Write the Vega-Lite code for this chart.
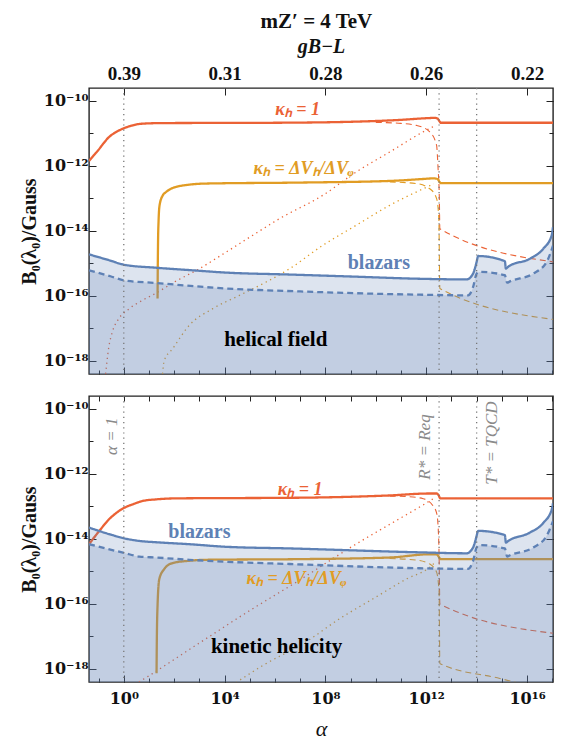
{
  "$schema": "https://vega.github.io/schema/vega-lite/v6.json",
  "padding": {"left": 18, "right": 0, "top": 11, "bottom": 3},
  "title": {"text": "mZ′ = 4 TeV", "font": "Liberation Serif", "fontSize": 21, "fontWeight": "bold", "anchor": "middle", "dx": 30, "offset": 3, "color": "#111"},
  "datasets": {
    "curves": [
      {"p":"t","s":"r1","a":4.169e-2,"b":1.413e-12},
      {"p":"t","s":"r1","a":6.310e-2,"b":2.089e-12},
      {"p":"t","s":"r1","a":1e-1,"b":3.162e-12},
      {"p":"t","s":"r1","a":1.585e-1,"b":5.012e-12},
      {"p":"t","s":"r1","a":2.512e-1,"b":7.586e-12},
      {"p":"t","s":"r1","a":3.981e-1,"b":1e-11},
      {"p":"t","s":"r1","a":6.310e-1,"b":1.230e-11},
      {"p":"t","s":"r1","a":1,"b":1.445e-11},
      {"p":"t","s":"r1","a":1.995,"b":1.738e-11},
      {"p":"t","s":"r1","a":5.012,"b":1.995e-11},
      {"p":"t","s":"r1","a":31.62,"b":2.089e-11},
      {"p":"t","s":"r1","a":1e6,"b":2.138e-11},
      {"p":"t","s":"r1","a":1e9,"b":2.291e-11},
      {"p":"t","s":"r1","a":1e11,"b":2.630e-11},
      {"p":"t","s":"r1","a":1e12,"b":2.951e-11},
      {"p":"t","s":"r1","a":2.239e12,"b":3.020e-11},
      {"p":"t","s":"r1","a":2.818e12,"b":2.884e-11},
      {"p":"t","s":"r1","a":3.311e12,"b":2.399e-11},
      {"p":"t","s":"r1","a":3.802e12,"b":2.138e-11},
      {"p":"t","s":"r1","a":1.07e17,"b":2.138e-11},

      {"p":"t","s":"r2","a":1e10,"b":2.188e-11},
      {"p":"t","s":"r2","a":1e11,"b":2.042e-11},
      {"p":"t","s":"r2","a":4.074e11,"b":1.778e-11},
      {"p":"t","s":"r2","a":1.380e12,"b":1.122e-11},
      {"p":"t","s":"r2","a":2.570e12,"b":4.365e-12},
      {"p":"t","s":"r2","a":2.951e12,"b":8.318e-13},
      {"p":"t","s":"r2","a":3.311e12,"b":1e-13},
      {"p":"t","s":"r2","a":3.467e12,"b":1.175e-14},
      {"p":"t","s":"r2","a":1.07e17,"b":1.122e-15},

      {"p":"t","s":"r3","a":1.905e-1,"b":3.981e-19},
      {"p":"t","s":"r3","a":2.512e-1,"b":2.512e-18},
      {"p":"t","s":"r3","a":3.548e-1,"b":7.943e-18},
      {"p":"t","s":"r3","a":6.310e-1,"b":1.995e-17},
      {"p":"t","s":"r3","a":1.585,"b":3.981e-17},
      {"p":"t","s":"r3","a":5.012,"b":7.079e-17},
      {"p":"t","s":"r3","a":22.39,"b":1.318e-16},
      {"p":"t","s":"r3","a":87.10,"b":2.512e-16},
      {"p":"t","s":"r3","a":1e3,"b":6.918e-16},
      {"p":"t","s":"r3","a":1.148e4,"b":2.239e-15},
      {"p":"t","s":"r3","a":1.318e5,"b":7.413e-15},
      {"p":"t","s":"r3","a":1.514e6,"b":2.399e-14},
      {"p":"t","s":"r3","a":7.943e7,"b":1.259e-13},
      {"p":"t","s":"r3","a":1.698e9,"b":6.607e-13},
      {"p":"t","s":"r3","a":3.548e10,"b":2.692e-12},
      {"p":"t","s":"r3","a":7.586e11,"b":1.122e-11},
      {"p":"t","s":"r3","a":1.995e12,"b":1.660e-11},

      {"p":"t","s":"o1","a":21.88,"b":8.318e-17},
      {"p":"t","s":"o1","a":22.39,"b":1e-15},
      {"p":"t","s":"o1","a":22.91,"b":5.012e-15},
      {"p":"t","s":"o1","a":23.99,"b":1.995e-14},
      {"p":"t","s":"o1","a":26.30,"b":6.166e-14},
      {"p":"t","s":"o1","a":35.48,"b":1.259e-13},
      {"p":"t","s":"o1","a":47.86,"b":1.585e-13},
      {"p":"t","s":"o1","a":158.5,"b":2.399e-13},
      {"p":"t","s":"o1","a":1862,"b":2.884e-13},
      {"p":"t","s":"o1","a":1e7,"b":3.090e-13},
      {"p":"t","s":"o1","a":3.548e10,"b":3.467e-13},
      {"p":"t","s":"o1","a":7.586e11,"b":3.981e-13},
      {"p":"t","s":"o1","a":1.995e12,"b":4.169e-13},
      {"p":"t","s":"o1","a":2.818e12,"b":3.981e-13},
      {"p":"t","s":"o1","a":3.311e12,"b":3.311e-13},
      {"p":"t","s":"o1","a":3.802e12,"b":2.951e-13},
      {"p":"t","s":"o1","a":1.07e17,"b":2.951e-13},

      {"p":"t","s":"o2","a":3.548e10,"b":3.236e-13},
      {"p":"t","s":"o2","a":4.074e11,"b":2.884e-13},
      {"p":"t","s":"o2","a":1.380e12,"b":1.995e-13},
      {"p":"t","s":"o2","a":2.570e12,"b":1e-13},
      {"p":"t","s":"o2","a":3.162e12,"b":2.399e-14},
      {"p":"t","s":"o2","a":3.467e12,"b":1.698e-16},
      {"p":"t","s":"o2","a":1.07e17,"b":1.905e-17},

      {"p":"t","s":"o3","a":34.67,"b":3.981e-19},
      {"p":"t","s":"o3","a":39.81,"b":1e-18},
      {"p":"t","s":"o3","a":87.10,"b":2.399e-18},
      {"p":"t","s":"o3","a":398.1,"b":1.259e-17},
      {"p":"t","s":"o3","a":3388,"b":4.074e-17},
      {"p":"t","s":"o3","a":3.890e4,"b":1.047e-16},
      {"p":"t","s":"o3","a":4.467e5,"b":2.692e-16},
      {"p":"t","s":"o3","a":3.802e6,"b":6.918e-16},
      {"p":"t","s":"o3","a":7.943e7,"b":3.631e-15},
      {"p":"t","s":"o3","a":1.698e9,"b":1.514e-14},
      {"p":"t","s":"o3","a":3.548e10,"b":6.166e-14},
      {"p":"t","s":"o3","a":7.586e11,"b":1.995e-13},
      {"p":"t","s":"o3","a":1.995e12,"b":2.818e-13},

      {"p":"t","s":"b1","a":4.169e-2,"b":1.905e-15},
      {"p":"t","s":"b1","a":2.630e-1,"b":1.259e-15},
      {"p":"t","s":"b1","a":1.047,"b":9.120e-16},
      {"p":"t","s":"b1","a":19.05,"b":7.413e-16},
      {"p":"t","s":"b1","a":549.5,"b":6.166e-16},
      {"p":"t","s":"b1","a":1.148e4,"b":5.248e-16},
      {"p":"t","s":"b1","a":3.802e6,"b":4.571e-16},
      {"p":"t","s":"b1","a":1e9,"b":3.981e-16},
      {"p":"t","s":"b1","a":5.495e11,"b":3.388e-16},
      {"p":"t","s":"b1","a":3.981e13,"b":3.236e-16},
      {"p":"t","s":"b1","a":7.244e13,"b":4.898e-16},
      {"p":"t","s":"b1","a":8.913e13,"b":7.943e-16},
      {"p":"t","s":"b1","a":1e14,"b":1.122e-15},
      {"p":"t","s":"b1","a":1.148e14,"b":1.698e-15},
      {"p":"t","s":"b1","a":1.318e15,"b":1.175e-15},
      {"p":"t","s":"b1","a":1.445e15,"b":6.918e-16},
      {"p":"t","s":"b1","a":1.778e15,"b":7.943e-16},
      {"p":"t","s":"b1","a":1.318e16,"b":1.413e-15},
      {"p":"t","s":"b1","a":4.467e16,"b":2.884e-15},
      {"p":"t","s":"b1","a":9.550e16,"b":7.413e-15},
      {"p":"t","s":"b1","a":1.07e17,"b":1.318e-14},

      {"p":"t","s":"b2","a":4.169e-2,"b":6.166e-16},
      {"p":"t","s":"b2","a":3.162e-1,"b":3.981e-16},
      {"p":"t","s":"b2","a":1.047,"b":3.020e-16},
      {"p":"t","s":"b2","a":19.05,"b":2.512e-16},
      {"p":"t","s":"b2","a":1.148e4,"b":1.698e-16},
      {"p":"t","s":"b2","a":1e7,"b":1.380e-16},
      {"p":"t","s":"b2","a":5.495e11,"b":1.096e-16},
      {"p":"t","s":"b2","a":4.571e13,"b":1.047e-16},
      {"p":"t","s":"b2","a":7.244e13,"b":1.905e-16},
      {"p":"t","s":"b2","a":1e14,"b":4.898e-16},
      {"p":"t","s":"b2","a":1.349e14,"b":5.495e-16},
      {"p":"t","s":"b2","a":1.318e15,"b":4.365e-16},
      {"p":"t","s":"b2","a":1.622e15,"b":2.570e-16},
      {"p":"t","s":"b2","a":2.089e15,"b":2.818e-16},
      {"p":"t","s":"b2","a":1.778e16,"b":4.898e-16},
      {"p":"t","s":"b2","a":6.026e16,"b":1.122e-15},
      {"p":"t","s":"b2","a":1.07e17,"b":3.548e-15},

      {"p":"b","s":"r1","a":4.169e-2,"b":6.918e-15},
      {"p":"b","s":"r1","a":1.072e-1,"b":1.778e-14},
      {"p":"b","s":"r1","a":2.630e-1,"b":4.074e-14},
      {"p":"b","s":"r1","a":5.012e-1,"b":6.310e-14},
      {"p":"b","s":"r1","a":1.047,"b":9.120e-14},
      {"p":"b","s":"r1","a":2.512,"b":1.202e-13},
      {"p":"b","s":"r1","a":5.623,"b":1.479e-13},
      {"p":"b","s":"r1","a":19.95,"b":1.660e-13},
      {"p":"b","s":"r1","a":117.5,"b":1.778e-13},
      {"p":"b","s":"r1","a":1e7,"b":1.862e-13},
      {"p":"b","s":"r1","a":3.548e10,"b":2.188e-13},
      {"p":"b","s":"r1","a":1.380e12,"b":2.512e-13},
      {"p":"b","s":"r1","a":2.570e12,"b":2.512e-13},
      {"p":"b","s":"r1","a":3.020e12,"b":2.291e-13},
      {"p":"b","s":"r1","a":3.631e12,"b":1.778e-13},
      {"p":"b","s":"r1","a":1.07e17,"b":1.778e-13},

      {"p":"b","s":"r2","a":3.548e10,"b":2.089e-13},
      {"p":"b","s":"r2","a":1.995e11,"b":1.995e-13},
      {"p":"b","s":"r2","a":7.586e11,"b":1.738e-13},
      {"p":"b","s":"r2","a":1.862e12,"b":1.047e-13},
      {"p":"b","s":"r2","a":2.570e12,"b":6.310e-14},
      {"p":"b","s":"r2","a":2.951e12,"b":2.512e-14},
      {"p":"b","s":"r2","a":3.236e12,"b":3.162e-15},
      {"p":"b","s":"r2","a":3.467e12,"b":1e-16},
      {"p":"b","s":"r2","a":1.07e17,"b":1.259e-17},

      {"p":"b","s":"r3","a":3.981,"b":3.981e-19},
      {"p":"b","s":"r3","a":6.457,"b":5.012e-19},
      {"p":"b","s":"r3","a":1e3,"b":6.310e-18},
      {"p":"b","s":"r3","a":1e5,"b":6.310e-17},
      {"p":"b","s":"r3","a":6.918e6,"b":4.677e-16},
      {"p":"b","s":"r3","a":1.698e9,"b":7.079e-15},
      {"p":"b","s":"r3","a":3.548e10,"b":2.818e-14},
      {"p":"b","s":"r3","a":7.586e11,"b":1.122e-13},
      {"p":"b","s":"r3","a":1.995e12,"b":1.778e-13},

      {"p":"b","s":"o1","a":19.95,"b":7.413e-19},
      {"p":"b","s":"o1","a":20.42,"b":6.310e-18},
      {"p":"b","s":"o1","a":21.88,"b":9.120e-17},
      {"p":"b","s":"o1","a":25.70,"b":5.888e-16},
      {"p":"b","s":"o1","a":40.74,"b":1.202e-15},
      {"p":"b","s":"o1","a":87.10,"b":1.820e-15},
      {"p":"b","s":"o1","a":398.1,"b":2.138e-15},
      {"p":"b","s":"o1","a":1862,"b":2.291e-15},
      {"p":"b","s":"o1","a":1e7,"b":2.399e-15},
      {"p":"b","s":"o1","a":3.548e10,"b":2.692e-15},
      {"p":"b","s":"o1","a":1.380e12,"b":3.388e-15},
      {"p":"b","s":"o1","a":2.570e12,"b":3.388e-15},
      {"p":"b","s":"o1","a":3.162e12,"b":2.818e-15},
      {"p":"b","s":"o1","a":3.631e12,"b":2.399e-15},
      {"p":"b","s":"o1","a":1.07e17,"b":2.399e-15},

      {"p":"b","s":"o2","a":3.548e10,"b":2.512e-15},
      {"p":"b","s":"o2","a":4.074e11,"b":2.239e-15},
      {"p":"b","s":"o2","a":1.380e12,"b":1.698e-15},
      {"p":"b","s":"o2","a":2.570e12,"b":9.550e-16},
      {"p":"b","s":"o2","a":3.236e12,"b":2.291e-16},
      {"p":"b","s":"o2","a":3.467e12,"b":1.479e-18},
      {"p":"b","s":"o2","a":8.318e14,"b":5.129e-19},
      {"p":"b","s":"o2","a":1.07e17,"b":1.995e-19},

      {"p":"b","s":"o3","a":2.818e4,"b":3.802e-19},
      {"p":"b","s":"o3","a":3.162e5,"b":1.259e-18},
      {"p":"b","s":"o3","a":1.738e7,"b":6.918e-18},
      {"p":"b","s":"o3","a":3.715e8,"b":3.548e-17},
      {"p":"b","s":"o3","a":7.762e9,"b":1.445e-16},
      {"p":"b","s":"o3","a":1.660e11,"b":5.888e-16},
      {"p":"b","s":"o3","a":1.380e12,"b":1.349e-15},
      {"p":"b","s":"o3","a":2.239e12,"b":1.905e-15},

      {"p":"b","s":"b1","a":4.169e-2,"b":2.239e-14},
      {"p":"b","s":"b1","a":2.630e-1,"b":1.413e-14},
      {"p":"b","s":"b1","a":1.047,"b":1.047e-14},
      {"p":"b","s":"b1","a":4.169,"b":8.710e-15},
      {"p":"b","s":"b1","a":19.05,"b":7.943e-15},
      {"p":"b","s":"b1","a":398.1,"b":6.918e-15},
      {"p":"b","s":"b1","a":1.148e4,"b":5.754e-15},
      {"p":"b","s":"b1","a":3.802e6,"b":5.129e-15},
      {"p":"b","s":"b1","a":5.495e11,"b":3.890e-15},
      {"p":"b","s":"b1","a":3.981e13,"b":3.631e-15},
      {"p":"b","s":"b1","a":7.244e13,"b":5.495e-15},
      {"p":"b","s":"b1","a":8.913e13,"b":8.913e-15},
      {"p":"b","s":"b1","a":1e14,"b":1.259e-14},
      {"p":"b","s":"b1","a":1.148e14,"b":1.778e-14},
      {"p":"b","s":"b1","a":1.318e15,"b":1.318e-14},
      {"p":"b","s":"b1","a":1.445e15,"b":7.762e-15},
      {"p":"b","s":"b1","a":1.778e15,"b":8.710e-15},
      {"p":"b","s":"b1","a":1.318e16,"b":1.585e-14},
      {"p":"b","s":"b1","a":4.467e16,"b":3.162e-14},
      {"p":"b","s":"b1","a":9.550e16,"b":8.128e-14},
      {"p":"b","s":"b1","a":1.07e17,"b":1.259e-13},

      {"p":"b","s":"b2","a":4.169e-2,"b":6.918e-15},
      {"p":"b","s":"b2","a":1.047,"b":3.715e-15},
      {"p":"b","s":"b2","a":4.169,"b":2.884e-15},
      {"p":"b","s":"b2","a":19.05,"b":2.692e-15},
      {"p":"b","s":"b2","a":398.1,"b":2.291e-15},
      {"p":"b","s":"b2","a":1.148e4,"b":1.995e-15},
      {"p":"b","s":"b2","a":3.802e6,"b":1.698e-15},
      {"p":"b","s":"b2","a":5.495e11,"b":1.259e-15},
      {"p":"b","s":"b2","a":4.571e13,"b":1.202e-15},
      {"p":"b","s":"b2","a":7.244e13,"b":2.138e-15},
      {"p":"b","s":"b2","a":1e14,"b":5.495e-15},
      {"p":"b","s":"b2","a":1.349e14,"b":6.457e-15},
      {"p":"b","s":"b2","a":1.318e15,"b":5.129e-15},
      {"p":"b","s":"b2","a":1.622e15,"b":2.884e-15},
      {"p":"b","s":"b2","a":2.089e15,"b":3.162e-15},
      {"p":"b","s":"b2","a":1.778e16,"b":5.495e-15},
      {"p":"b","s":"b2","a":6.026e16,"b":1.259e-14},
      {"p":"b","s":"b2","a":1.07e17,"b":3.548e-14}
    ],
    "vlines": [{"a": 1}, {"a": 3.236e12}, {"a": 1e14}],
    "lab": [
      {"p":"t","g":"k1","t":"κₕ = 1","a":7.943e6,"b":5.248e-11},
      {"p":"t","g":"k2","t":"κₕ = ΔVₕ/ΔVᵩ","a":1.380e7,"b":8.318e-13},
      {"p":"t","g":"bl","t":"blazars","a":1.318e10,"b":1e-15},
      {"p":"t","g":"ti","t":"helical field","a":1.072e6,"b":4.467e-18},
      {"p":"b","g":"k1","t":"κₕ = 1","a":1e7,"b":3.311e-13},
      {"p":"b","g":"k2","t":"κₕ = ΔVₕ/ΔVᵩ","a":7.244e6,"b":5.888e-16},
      {"p":"b","g":"bl","t":"blazars","a":1e3,"b":1.585e-14},
      {"p":"b","g":"ti","t":"kinetic helicity","a":1.148e6,"b":4.786e-18},
      {"p":"b","g":"gr","t":"α = 1","a":3.467e-1,"b":1.445e-11},
      {"p":"b","g":"gr","t":"R* = Req","a":8.710e11,"b":6.761e-12},
      {"p":"b","g":"gr","t":"T* = TQCD","a":3.981e14,"b":8.913e-12}
    ]
  },
  "vconcat": [
    {
      "width": 464, "height": 286,
      "resolve": {"axis": {"x": "independent", "y": "independent"}},
      "layer": [
        {
          "data": {"name": "curves"},
          "transform": [{"filter": "datum.p == 't' && (datum.s == 'r1' || datum.s == 'r2' || datum.s == 'r3' || datum.s == 'o1' || datum.s == 'o2' || datum.s == 'o3')"}],
          "mark": {"type": "line", "clip": true, "interpolate": "monotone"},
          "encoding": {
            "x": {"field": "a", "type": "quantitative", "scale": {"type": "log", "domain": [0.0417, 1.07e17], "nice": false},
                  "axis": {"orient": "bottom", "values": [1, 1e4, 1e8, 1e12, 1e16], "tickSize": -7, "labels": false, "title": null}},
            "y": {"field": "b", "type": "quantitative", "scale": {"type": "log", "domain": [3.98e-19, 2.51e-10], "nice": false},
                  "axis": {"orient": "left", "values": [1e-18, 1e-16, 1e-14, 1e-12, 1e-10], "tickSize": -7, "labelPadding": 8,
                           "labelFont": "DejaVu Serif", "labelFontSize": 16,
                           "labelExpr": "round(log(datum.value)/LN10)==-10?'10⁻¹⁰':round(log(datum.value)/LN10)==-12?'10⁻¹²':round(log(datum.value)/LN10)==-14?'10⁻¹⁴':round(log(datum.value)/LN10)==-16?'10⁻¹⁶':'10⁻¹⁸'",
                           "title": "B₀(λ₀)/Gauss", "titlePadding": 4}},
            "color": {"field": "s", "type": "nominal", "legend": null, "scale": {"domain": ["r1","r2","r3","o1","o2","o3"], "range": ["#EB6235","#EB6235","#EB6235","#E19C24","#E19C24","#E19C24"]}},
            "strokeDash": {"field": "s", "type": "nominal", "legend": null, "scale": {"type": "ordinal", "domain": ["r1","r2","r3","o1","o2","o3"], "range": [[1,0],[6,4],[1.3,3.7],[1,0],[6,4],[1.3,3.7]]}},
            "strokeWidth": {"field": "s", "type": "nominal", "legend": null, "scale": {"type": "ordinal", "domain": ["r1","r2","r3","o1","o2","o3"], "range": [2.3,1.1,1.3,2.3,1.1,1.3]}}
          }
        },
        {
          "data": {"name": "curves"},
          "transform": [{"filter": "datum.p == 't' && (datum.s == 'b1' || datum.s == 'b2')"}],
          "mark": {"type": "area", "clip": true, "interpolate": "monotone", "color": "#5E81B5", "fillOpacity": 0.21},
          "encoding": {
            "x": {"field": "a", "type": "quantitative", "axis": null},
            "y": {"field": "b", "type": "quantitative", "axis": null},
            "y2": {"datum": 3.98e-19},
            "detail": {"field": "s", "type": "nominal"}
          }
        },
        {
          "data": {"name": "curves"},
          "transform": [{"filter": "datum.p == 't' && (datum.s == 'b1' || datum.s == 'b2')"}],
          "mark": {"type": "line", "clip": true, "interpolate": "monotone", "color": "#5E81B5", "strokeWidth": 2.3},
          "encoding": {
            "x": {"field": "a", "type": "quantitative",
                  "axis": {"orient": "bottom", "values": [0.1,1,10,100,1e3,1e4,1e5,1e6,1e7,1e8,1e9,1e10,1e11,1e12,1e13,1e14,1e15,1e16,1e17], "tickSize": -4, "labels": false, "title": null}},
            "y": {"field": "b", "type": "quantitative",
                  "axis": {"orient": "left", "values": [1e-18,1e-17,1e-16,1e-15,1e-14,1e-13,1e-12,1e-11,1e-10], "tickSize": -4, "labels": false, "title": null}},
            "strokeDash": {"field": "s", "type": "nominal", "legend": null, "scale": {"type": "ordinal", "domain": ["b1","b2"], "range": [[1,0],[10,5]]}}
          }
        },
        {
          "data": {"name": "vlines"},
          "mark": {"type": "rule", "color": "#777", "strokeDash": [1.2, 4], "strokeWidth": 1.3},
          "encoding": {"x": {"field": "a", "type": "quantitative", "axis": null}}
        },
        {
          "data": {"name": "lab"},
          "transform": [{"filter": "datum.p == 't' && datum.g == 'k1'"}],
          "mark": {"type": "text", "color": "#EB6235", "font": "Liberation Serif", "fontSize": 18, "fontStyle": "italic", "fontWeight": "bold"},
          "encoding": {
            "x": {"field": "a", "type": "quantitative",
                  "axis": {"orient": "top", "values": [1, 1e4, 1e8, 1e12, 1e16], "tickSize": -7, "labelPadding": 12,
                           "labelExpr": "round(log(datum.value)/LN10)==0?'0.39':round(log(datum.value)/LN10)==4?'0.31':round(log(datum.value)/LN10)==8?'0.28':round(log(datum.value)/LN10)==12?'0.26':'0.22'",
                           "title": "gB−L", "titleFontStyle": "italic", "titleFontSize": 20, "titlePadding": 8}},
            "y": {"field": "b", "type": "quantitative",
                  "axis": {"orient": "right", "values": [1e-18, 1e-16, 1e-14, 1e-12, 1e-10], "tickSize": -7, "labels": false, "title": null}},
            "text": {"field": "t"}
          }
        },
        {
          "data": {"name": "lab"},
          "transform": [{"filter": "datum.p == 't' && datum.g == 'k2'"}],
          "mark": {"type": "text", "color": "#E19C24", "font": "Liberation Serif", "fontSize": 18, "fontStyle": "italic", "fontWeight": "bold"},
          "encoding": {
            "x": {"field": "a", "type": "quantitative", "axis": null},
            "y": {"field": "b", "type": "quantitative",
                  "axis": {"orient": "right", "values": [1e-18,1e-17,1e-16,1e-15,1e-14,1e-13,1e-12,1e-11,1e-10], "tickSize": -4, "labels": false, "title": null}},
            "text": {"field": "t"}
          }
        },
        {
          "data": {"name": "lab"},
          "transform": [{"filter": "datum.p == 't' && datum.g == 'bl'"}],
          "mark": {"type": "text", "color": "#5E81B5", "font": "Liberation Serif", "fontSize": 20, "fontWeight": "bold"},
          "encoding": {
            "x": {"field": "a", "type": "quantitative", "axis": null},
            "y": {"field": "b", "type": "quantitative", "axis": null},
            "text": {"field": "t"}
          }
        },
        {
          "data": {"name": "lab"},
          "transform": [{"filter": "datum.p == 't' && datum.g == 'ti'"}],
          "mark": {"type": "text", "color": "#000", "font": "Liberation Serif", "fontSize": 21, "fontWeight": "bold"},
          "encoding": {
            "x": {"field": "a", "type": "quantitative", "axis": null},
            "y": {"field": "b", "type": "quantitative", "axis": null},
            "text": {"field": "t"}
          }
        }
      ]
    },
    {
      "width": 464, "height": 286,
      "resolve": {"axis": {"x": "independent", "y": "independent"}},
      "layer": [
        {
          "data": {"name": "curves"},
          "transform": [{"filter": "datum.p == 'b' && (datum.s == 'r1' || datum.s == 'r2' || datum.s == 'r3' || datum.s == 'o1' || datum.s == 'o2' || datum.s == 'o3')"}],
          "mark": {"type": "line", "clip": true, "interpolate": "monotone"},
          "encoding": {
            "x": {"field": "a", "type": "quantitative", "scale": {"type": "log", "domain": [0.0417, 1.07e17], "nice": false},
                  "axis": {"orient": "bottom", "values": [1, 1e4, 1e8, 1e12, 1e16], "tickSize": -7, "labelPadding": 15,
                           "labelFont": "DejaVu Serif", "labelFontSize": 16,
                           "labelExpr": "round(log(datum.value)/LN10)==0?'10⁰':round(log(datum.value)/LN10)==4?'10⁴':round(log(datum.value)/LN10)==8?'10⁸':round(log(datum.value)/LN10)==12?'10¹²':'10¹⁶'",
                           "title": "α", "titleFontStyle": "italic", "titleFontWeight": "normal", "titleFontSize": 22, "titlePadding": 12}},
            "y": {"field": "b", "type": "quantitative", "scale": {"type": "log", "domain": [3.98e-19, 2.51e-10], "nice": false},
                  "axis": {"orient": "left", "values": [1e-18, 1e-16, 1e-14, 1e-12, 1e-10], "tickSize": -7, "labelPadding": 8,
                           "labelFont": "DejaVu Serif", "labelFontSize": 16,
                           "labelExpr": "round(log(datum.value)/LN10)==-10?'10⁻¹⁰':round(log(datum.value)/LN10)==-12?'10⁻¹²':round(log(datum.value)/LN10)==-14?'10⁻¹⁴':round(log(datum.value)/LN10)==-16?'10⁻¹⁶':'10⁻¹⁸'",
                           "title": "B₀(λ₀)/Gauss", "titlePadding": 4}},
            "color": {"field": "s", "type": "nominal", "legend": null, "scale": {"domain": ["r1","r2","r3","o1","o2","o3"], "range": ["#EB6235","#EB6235","#EB6235","#E19C24","#E19C24","#E19C24"]}},
            "strokeDash": {"field": "s", "type": "nominal", "legend": null, "scale": {"type": "ordinal", "domain": ["r1","r2","r3","o1","o2","o3"], "range": [[1,0],[6,4],[1.3,3.7],[1,0],[6,4],[1.3,3.7]]}},
            "strokeWidth": {"field": "s", "type": "nominal", "legend": null, "scale": {"type": "ordinal", "domain": ["r1","r2","r3","o1","o2","o3"], "range": [2.3,1.1,1.3,2.3,1.1,1.3]}}
          }
        },
        {
          "data": {"name": "curves"},
          "transform": [{"filter": "datum.p == 'b' && (datum.s == 'b1' || datum.s == 'b2')"}],
          "mark": {"type": "area", "clip": true, "interpolate": "monotone", "color": "#5E81B5", "fillOpacity": 0.21},
          "encoding": {
            "x": {"field": "a", "type": "quantitative", "axis": null},
            "y": {"field": "b", "type": "quantitative", "axis": null},
            "y2": {"datum": 3.98e-19},
            "detail": {"field": "s", "type": "nominal"}
          }
        },
        {
          "data": {"name": "curves"},
          "transform": [{"filter": "datum.p == 'b' && (datum.s == 'b1' || datum.s == 'b2')"}],
          "mark": {"type": "line", "clip": true, "interpolate": "monotone", "color": "#5E81B5", "strokeWidth": 2.3},
          "encoding": {
            "x": {"field": "a", "type": "quantitative",
                  "axis": {"orient": "bottom", "values": [0.1,1,10,100,1e3,1e4,1e5,1e6,1e7,1e8,1e9,1e10,1e11,1e12,1e13,1e14,1e15,1e16,1e17], "tickSize": -4, "labels": false, "title": null}},
            "y": {"field": "b", "type": "quantitative",
                  "axis": {"orient": "left", "values": [1e-18,1e-17,1e-16,1e-15,1e-14,1e-13,1e-12,1e-11,1e-10], "tickSize": -4, "labels": false, "title": null}},
            "strokeDash": {"field": "s", "type": "nominal", "legend": null, "scale": {"type": "ordinal", "domain": ["b1","b2"], "range": [[1,0],[10,5]]}}
          }
        },
        {
          "data": {"name": "vlines"},
          "mark": {"type": "rule", "color": "#777", "strokeDash": [1.2, 4], "strokeWidth": 1.3},
          "encoding": {"x": {"field": "a", "type": "quantitative", "axis": null}}
        },
        {
          "data": {"name": "lab"},
          "transform": [{"filter": "datum.p == 'b' && datum.g == 'k1'"}],
          "mark": {"type": "text", "color": "#EB6235", "font": "Liberation Serif", "fontSize": 18, "fontStyle": "italic", "fontWeight": "bold"},
          "encoding": {
            "x": {"field": "a", "type": "quantitative",
                  "axis": {"orient": "top", "values": [0.1,1,10,100,1e3,1e4,1e5,1e6,1e7,1e8,1e9,1e10,1e11,1e12,1e13,1e14,1e15,1e16,1e17], "tickSize": -5, "labels": false, "title": null}},
            "y": {"field": "b", "type": "quantitative",
                  "axis": {"orient": "right", "values": [1e-18, 1e-16, 1e-14, 1e-12, 1e-10], "tickSize": -7, "labels": false, "title": null}},
            "text": {"field": "t"}
          }
        },
        {
          "data": {"name": "lab"},
          "transform": [{"filter": "datum.p == 'b' && datum.g == 'k2'"}],
          "mark": {"type": "text", "color": "#E19C24", "font": "Liberation Serif", "fontSize": 18, "fontStyle": "italic", "fontWeight": "bold"},
          "encoding": {
            "x": {"field": "a", "type": "quantitative", "axis": null},
            "y": {"field": "b", "type": "quantitative",
                  "axis": {"orient": "right", "values": [1e-18,1e-17,1e-16,1e-15,1e-14,1e-13,1e-12,1e-11,1e-10], "tickSize": -4, "labels": false, "title": null}},
            "text": {"field": "t"}
          }
        },
        {
          "data": {"name": "lab"},
          "transform": [{"filter": "datum.p == 'b' && datum.g == 'bl'"}],
          "mark": {"type": "text", "color": "#5E81B5", "font": "Liberation Serif", "fontSize": 20, "fontWeight": "bold"},
          "encoding": {
            "x": {"field": "a", "type": "quantitative", "axis": null},
            "y": {"field": "b", "type": "quantitative", "axis": null},
            "text": {"field": "t"}
          }
        },
        {
          "data": {"name": "lab"},
          "transform": [{"filter": "datum.p == 'b' && datum.g == 'ti'"}],
          "mark": {"type": "text", "color": "#000", "font": "Liberation Serif", "fontSize": 21, "fontWeight": "bold"},
          "encoding": {
            "x": {"field": "a", "type": "quantitative", "axis": null},
            "y": {"field": "b", "type": "quantitative", "axis": null},
            "text": {"field": "t"}
          }
        },
        {
          "data": {"name": "lab"},
          "transform": [{"filter": "datum.p == 'b' && datum.g == 'gr'"}],
          "mark": {"type": "text", "color": "#8a8a8a", "font": "Liberation Serif", "fontSize": 17, "fontStyle": "italic", "angle": 270},
          "encoding": {
            "x": {"field": "a", "type": "quantitative", "axis": null},
            "y": {"field": "b", "type": "quantitative", "axis": null},
            "text": {"field": "t"}
          }
        }
      ]
    }
  ],
  "spacing": 18,
  "config": {
    "view": {"stroke": "#222", "strokeWidth": 1.4},
    "axis": {"labelFont": "Liberation Serif", "labelFontSize": 19, "labelFontWeight": "bold", "labelColor": "#111",
             "titleFont": "Liberation Serif", "titleFontSize": 20, "titleFontWeight": "bold", "titleColor": "#111",
             "tickColor": "#222", "tickWidth": 1, "domain": false, "grid": false},
    "line": {"strokeCap": "butt"}
  }
}
